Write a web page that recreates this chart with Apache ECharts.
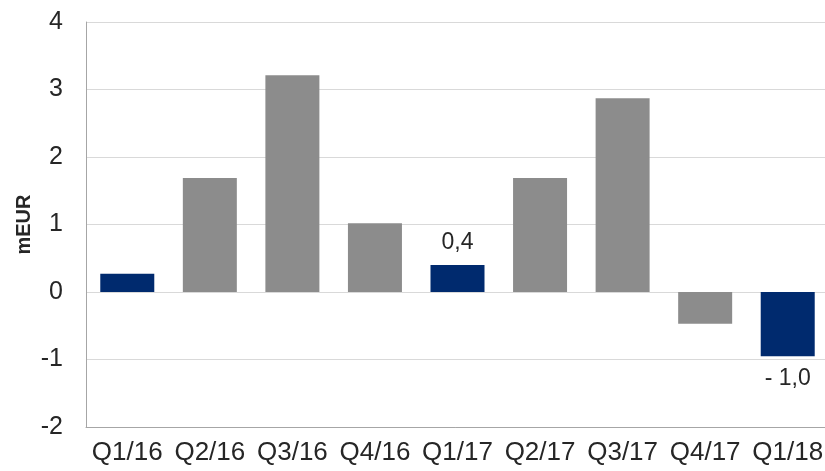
<!DOCTYPE html>
<html>
<head>
<meta charset="utf-8">
<script src="https://cdn.jsdelivr.net/npm/echarts@6/dist/echarts.min.js"></script>
<style>
  html, body { margin: 0; padding: 0; background: #fff; }
  #chart { width: 825px; height: 471px; }
</style>
</head>
<body>
<div id="chart"></div>
<script>
// quarters on the x axis
var quarters = ['Q1/16', 'Q2/16', 'Q3/16', 'Q4/16', 'Q1/17', 'Q2/17', 'Q3/17', 'Q4/17', 'Q1/18'];
// values in mEUR
var values = [0.27, 1.69, 3.21, 1.02, 0.40, 1.69, 2.87, -0.47, -0.95];
// highlighted (blue) quarters
var highlighted = [true, false, false, false, true, false, false, false, true];
// value labels shown on some bars
var valueLabels = ['', '', '', '', '0,4', '', '', '', '- 1,0'];

var chart = echarts.init(document.getElementById('chart'));

var barData = values.map(function(v, i) {
	return {
		value: v,
		itemStyle: { color: highlighted[i] ? '#002a6e' : '#8c8c8c' },
		label: {
			show: valueLabels[i] !== '',
			formatter: valueLabels[i],
			position: v < 0 ? 'bottom' : 'top',
			distance: 11
		}
	};
});

chart.setOption({
	animation: false,
	grid: { left: 86, right: -4, top: 22, bottom: 44, outerBoundsMode: 'none' },
	xAxis: {
		type: 'category',
		data: quarters,
		axisLine: { onZero: false, lineStyle: { color: '#a6a6a6' } },
		axisTick: { show: false },
		axisLabel: { color: '#262626', fontSize: 26, fontFamily: 'Liberation Sans', margin: 13, interval: 0, hideOverlap: false }
	},
	yAxis: {
		type: 'value',
		min: -2,
		max: 4,
		interval: 1,
		name: 'mEUR',
		nameLocation: 'middle',
		nameRotate: 90,
		nameGap: 52,
		nameMoveOverlap: false,
		nameTextStyle: { color: '#262626', fontSize: 20, fontWeight: 'bold', fontFamily: 'Liberation Sans' },
		axisLine: { show: true, lineStyle: { color: '#a6a6a6' } },
		axisTick: { show: false },
		splitLine: { lineStyle: { color: '#d9d9d9' } },
		axisLabel: { color: '#262626', fontSize: 25, fontFamily: 'Liberation Sans', margin: 23 }
	},
	series: [{
		type: 'bar',
		data: barData,
		barWidth: 54,
		label: { color: '#262626', fontSize: 23, fontFamily: 'Liberation Sans' }
	}]
});
</script>
</body>
</html>
